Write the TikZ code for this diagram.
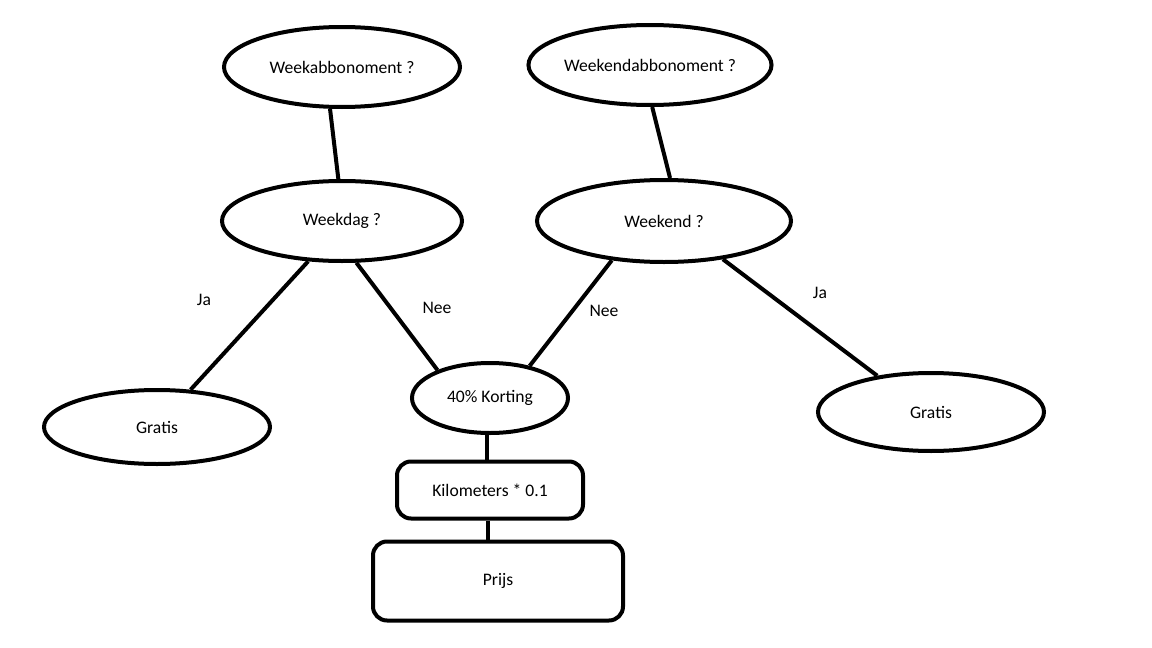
\documentclass[tikz,border=0pt]{standalone}
\usepackage{fontspec}
\setmainfont{Carlito}
\usetikzlibrary{shapes.geometric}

\begin{document}
\begin{tikzpicture}[x=0.5pt,y=-0.5pt,
  vraag/.style={draw,ellipse,line width=2pt,inner sep=0pt,font=\fontsize{8.8pt}{10pt}\selectfont},
  blok/.style={draw,rectangle,rounded corners=7pt,line width=2pt,inner sep=0pt,font=\fontsize{8.8pt}{10pt}\selectfont},
  lijn/.style={line width=2pt},
  tekst/.style={font=\fontsize{8.8pt}{10pt}\selectfont}
  ]
\useasboundingbox (0,0) rectangle (1152,648);

% vragen
\node[vraag,minimum width=118pt,minimum height=40pt] (weekabo) at (342,67) {Weekabbonoment ?};
\node[vraag,minimum width=114pt,minimum height=40pt] (weekendabo) at (650,65) {Weekendabbonoment ?};
\node[vraag,minimum width=120pt,minimum height=40pt] (weekdag) at (342,221) {Weekdag ?};
\node[vraag,minimum width=127pt,minimum height=41pt] (weekend) at (664,221) {Weekend ?};

% uitkomsten
\node[vraag,minimum width=113pt,minimum height=37pt] (gratisl) at (157,427) {Gratis};
\node[vraag,minimum width=78pt,minimum height=35pt] (korting) at (490,398) {40\% Korting};
\node[vraag,minimum width=113pt,minimum height=39pt] (gratisr) at (931,412) {Gratis};
\node[blok,minimum width=93pt,minimum height=28.5pt] (km) at (490,490) {Kilometers * 0.1};
\node[blok,minimum width=125pt,minimum height=39.5pt] (prijs) at (498,581) {Prijs};

% verbindingen
\draw[lijn] (weekabo.254) -- (weekdag.95);
\draw[lijn] (weekendabo.273) -- (weekend.82);
\draw[lijn] (weekdag.230) -- (gratisl.48);
\draw[lijn] (weekdag.289) -- (korting.152);
\draw[lijn] (weekend.217) -- (korting.39);
\draw[lijn] (weekend.327) -- (gratisr.146);
\draw[lijn] (korting.265) -- (korting.265 |- km.north);
\draw[lijn] (km.266) -- (km.266 |- prijs.north);

% labels
\node[tekst] (ja1) at (204,300) {Ja};
\node[tekst] (nee1) at (437,308) {Nee};
\node[tekst] (nee2) at (604,311) {Nee};
\node[tekst] (ja2) at (820,293) {Ja};
\end{tikzpicture}
\end{document}
